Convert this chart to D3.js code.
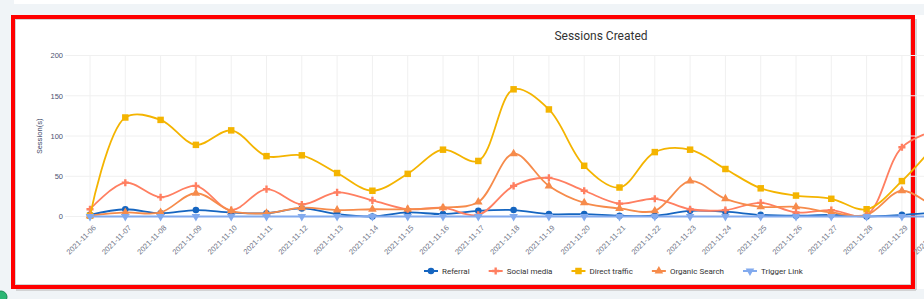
<!DOCTYPE html>
<html>
<head>
<meta charset="utf-8">
<script src="https://cdn.jsdelivr.net/npm/d3@7"></script>
<style>
  html, body { margin: 0; padding: 0; background: #f0f4f7; overflow: hidden; }
  svg { display: block; font-family: Roboto, "Liberation Sans", sans-serif; }
</style>
</head>
<body>
<svg id="chart" width="924" height="299"></svg>
<script>
const dates = ['2021-11-06', '2021-11-07', '2021-11-08', '2021-11-09', '2021-11-10', '2021-11-11',
  '2021-11-12', '2021-11-13', '2021-11-14', '2021-11-15', '2021-11-16', '2021-11-17', '2021-11-18',
  '2021-11-19', '2021-11-20', '2021-11-21', '2021-11-22', '2021-11-23', '2021-11-24', '2021-11-25',
  '2021-11-26', '2021-11-27', '2021-11-28', '2021-11-29', '2021-11-30'];

const referral      = [2, 9, 4, 8, 5, 4, 10, 3, 0, 5, 3, 7, 8, 3, 3, 1, 1, 7, 6, 2, 1, 2, 0, 2, 5];
const socialMedia   = [9, 42, 24, 38, 8, 34, 15, 30, 20, 9, 11, 2, 38, 48, 32, 16, 22, 9, 8, 17, 5, 8, 2, 86, 108];
const directTraffic = [1, 123, 120, 89, 107, 75, 76, 54, 32, 53, 83, 69, 158, 133, 63, 36, 80, 83, 59, 35, 26, 22, 9, 44, 92];
const organicSearch = [1, 5, 5, 29, 7, 4, 11, 8, 9, 9, 11, 18, 78, 38, 17, 10, 7, 44, 22, 12, 12, 5, 2, 32, 8];
const triggerLink   = [0, 0, 0, 0, 0, 0, 0, 0, 0, 0, 0, 0, 0, 0, 0, 0, 0, 0, 0, 0, 0, 0, 0, 0, 0];

const seriesNames = ['Referral', 'Social media', 'Direct traffic', 'Organic Search', 'Trigger Link'];
const yTicks = [0, 50, 100, 150, 200];

const series = [
  { name: seriesNames[0], values: referral,      color: '#1565c0', symbol: d3.symbolCircle,   size: 34, rot: 0 },
  { name: seriesNames[1], values: socialMedia,   color: '#ff7f61', symbol: d3.symbolCross,    size: 28, rot: 0 },
  { name: seriesNames[2], values: directTraffic, color: '#f4b400', symbol: d3.symbolSquare,   size: 42, rot: 0 },
  { name: seriesNames[3], values: organicSearch, color: '#f68b4b', symbol: d3.symbolTriangle, size: 32, rot: 0 },
  { name: seriesNames[4], values: triggerLink,   color: '#82aaee', symbol: d3.symbolTriangle, size: 32, rot: 180 }
];

let svg = d3.select('#chart');

// page frame
svg.append('rect').attr('x', 14).attr('y', 0).attr('width', 910).attr('height', 4).attr('fill', '#fff');
svg.append('rect').attr('x', 11).attr('y', 15).attr('width', 913).attr('height', 274).attr('fill', '#fff');
svg.append('rect').attr('x', 15).attr('y', 19).attr('width', 896).attr('height', 266)
  .attr('fill', 'none').attr('stroke', '#d4d4d4').attr('stroke-width', 2);
svg.append('rect').attr('x', 13).attr('y', 17).attr('width', 900).attr('height', 270)
  .attr('fill', 'none').attr('stroke', '#ff0000').attr('stroke-width', 4);
svg.append('line').attr('x1', 16).attr('x2', 916).attr('y1', 290).attr('y2', 290).attr('stroke', '#c9c9c9').attr('stroke-width', 1.5);
svg.append('line').attr('x1', 916).attr('x2', 916).attr('y1', 19).attr('y2', 290).attr('stroke', '#c9c9c9').attr('stroke-width', 1.5);
svg.append('circle').attr('cx', 1).attr('cy', 297).attr('r', 6).attr('fill', '#2bb673').attr('stroke', '#1a8a55');

let x = d3.scalePoint()
  .domain(dates)
  .range([90, 90 + 24 * 35.3]);

let y = d3.scaleLinear()
  .domain([0, 200])
  .range([216.5, 55.5]);

// grid
let grid = svg.append('g');
grid.selectAll('line.h')
  .data(yTicks)
  .enter()
  .append('line')
  .attr('x1', 65).attr('x2', 924)
  .attr('y1', d => y(d)).attr('y2', d => y(d))
  .attr('stroke', '#f0f0f0');
grid.selectAll('line.v')
  .data(dates)
  .enter()
  .append('line')
  .attr('x1', d => x(d)).attr('x2', d => x(d))
  .attr('y1', y(200)).attr('y2', y(0) + 3)
  .attr('stroke', '#f0f0f0');

// axes
let yAxis = svg.append('g')
  .attr('transform', 'translate(65,0)')
  .call(d3.axisLeft(y).tickValues(yTicks).tickSize(0).tickPadding(2));
yAxis.select('.domain').remove();
yAxis.selectAll('text').attr('fill', '#4c5270').style('font-size', '7.5px');

let xAxis = svg.append('g')
  .attr('transform', `translate(0,${y(0)})`)
  .call(d3.axisBottom(x).tickSize(0));
xAxis.select('.domain').remove();
xAxis.selectAll('text')
  .attr('fill', '#6f7587')
  .style('font-size', '7.5px')
  .attr('text-anchor', 'end')
  .attr('dy', '0.35em')
  .attr('transform', 'translate(4,10) rotate(-45)')
  .attr('y', 0);

svg.append('text')
  .attr('transform', `translate(42,${y(100)}) rotate(-90)`)
  .attr('text-anchor', 'middle')
  .attr('fill', '#4c5270')
  .style('font-size', '7.5px')
  .text('Session(s)');

svg.append('text')
  .attr('x', 601)
  .attr('y', 40)
  .attr('text-anchor', 'middle')
  .attr('fill', '#333')
  .style('font-size', '12px')
  .text('Sessions Created');

// lines + markers
let line = d3.line()
  .x((d, i) => x(dates[i]))
  .y(d => y(d))
  .curve(d3.curveCatmullRom.alpha(0.5));

let plot = svg.append('g');

series.forEach(function(s) {
  plot.append('path')
    .attr('d', line(s.values))
    .attr('fill', 'none')
    .attr('stroke', s.color)
    .attr('stroke-width', 1.8);

  plot.selectAll(null)
    .data(s.values)
    .enter()
    .append('path')
    .attr('d', d3.symbol().type(s.symbol).size(s.size))
    .attr('transform', (d, i) => `translate(${x(dates[i])},${y(d)}) rotate(${s.rot})`)
    .attr('fill', s.color);
});

// legend
let legend = svg.append('g').attr('transform', 'translate(0,271)');
let lx = 424;
series.forEach(function(s) {
  let item = legend.append('g').attr('transform', `translate(${lx},0)`);
  item.append('line').attr('x1', 0).attr('x2', 14).attr('stroke', s.color).attr('stroke-width', 2);
  item.append('path')
    .attr('d', d3.symbol().type(s.symbol).size(s.size))
    .attr('transform', `translate(7,0) rotate(${s.rot})`)
    .attr('fill', s.color);
  let t = item.append('text')
    .attr('x', 18)
    .attr('dy', '0.35em')
    .attr('fill', '#333')
    .style('font-size', '8px')
    .text(s.name);
  lx += 18 + t.node().getComputedTextLength() + 19;
});
</script>
</body>
</html>
